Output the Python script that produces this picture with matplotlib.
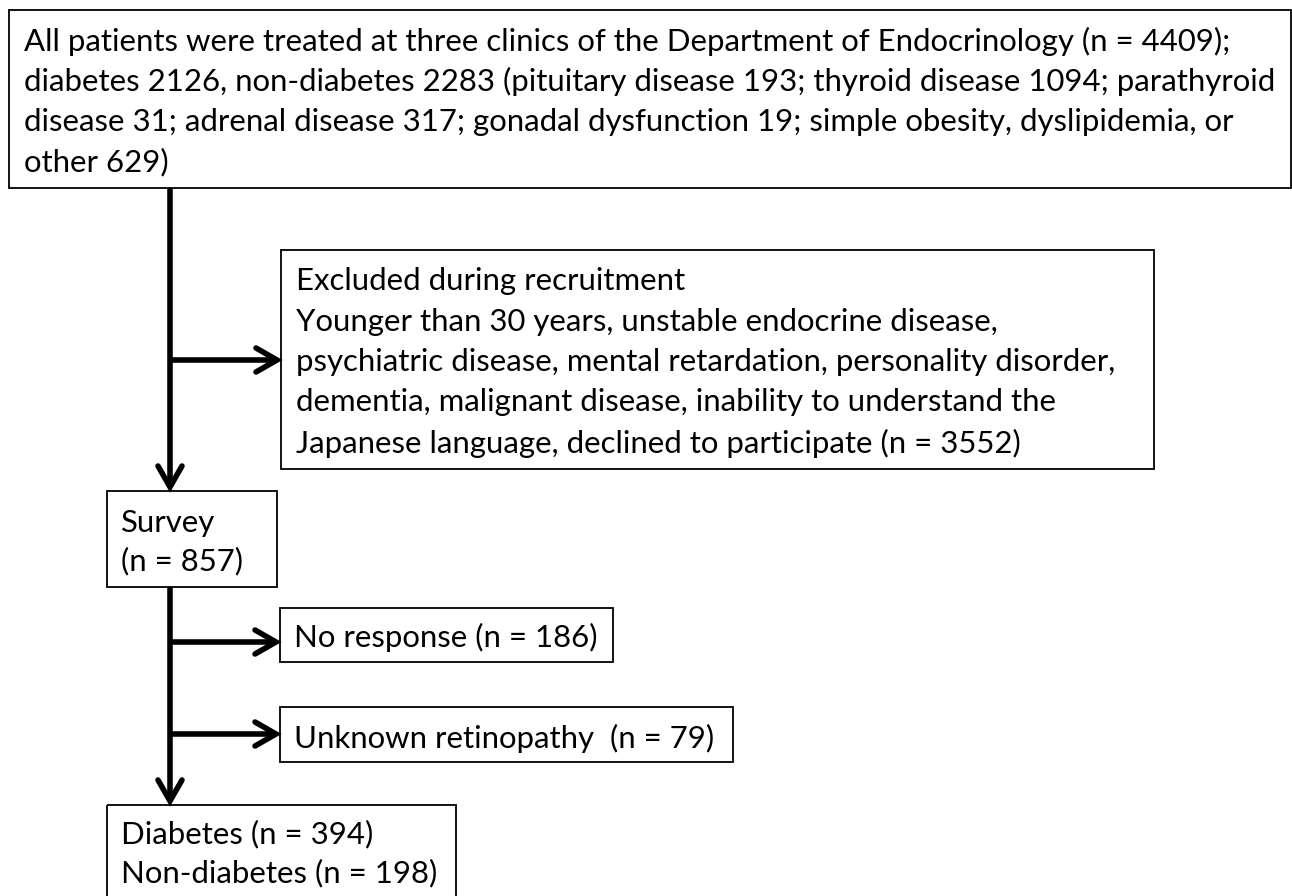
import matplotlib
matplotlib.use('Agg')
import matplotlib.pyplot as plt
from matplotlib.patches import Rectangle

plt.rcParams['font.family'] = ['Lato', 'DejaVu Sans']

# box texts
top_lines = [
    'All patients were treated at three clinics of the Department of Endocrinology (n = 4409);',
    'diabetes 2126, non-diabetes 2283 (pituitary disease 193; thyroid disease 1094; parathyroid',
    'disease 31; adrenal disease 317; gonadal dysfunction 19; simple obesity, dyslipidemia, or',
    'other 629)',
]
excluded_lines = [
    'Excluded during recruitment',
    'Younger than 30 years, unstable endocrine disease,',
    'psychiatric disease, mental retardation, personality disorder,',
    'dementia, malignant disease, inability to understand the',
    'Japanese language, declined to participate (n = 3552)',
]
survey_lines = ['Survey', '(n = 857)']
noresp_lines = ['No response (n = 186)']
unknown_lines = ['Unknown retinopathy  (n = 79)']
final_lines = ['Diabetes (n = 394)', 'Non-diabetes (n = 198)']

W, H = 1292, 896
fig = plt.figure(figsize=(W / 100, H / 100), dpi=100)
ax = fig.add_axes([0, 0, 1, 1])
ax.set_xlim(0, W)
ax.set_ylim(H, 0)
ax.axis('off')

FS = 22.4
LW = 1.3
GAP = 40.5


def box(x0, y0, x1, y1, lines, tx, ty, gap=GAP):
    ax.add_patch(Rectangle((x0, y0), x1 - x0, y1 - y0, fill=False,
                           edgecolor='black', linewidth=LW, clip_on=False))
    for i, s in enumerate(lines):
        ax.text(tx, ty + i * gap, s, fontsize=FS, va='center', ha='left')


def arrow(x0, y0, x1, y1):
    ax.plot([x0, x1], [y0, y1], color='black', lw=4, solid_capstyle='butt')
    if x0 == x1:
        d = 1 if y1 > y0 else -1
        ax.plot([x1 - 12, x1, x1 + 12], [y1 - d * 21, y1, y1 - d * 21],
                color='black', lw=4, solid_joinstyle='miter', solid_capstyle='round')
    else:
        ax.plot([x1 - 21, x1, x1 - 21], [y1 - 12, y1, y1 + 12],
                color='black', lw=4, solid_joinstyle='miter', solid_capstyle='round')


box(9, 10, 1291, 188, top_lines, 24, 41)
box(281, 250, 1154, 469, excluded_lines, 296, 281)
box(107, 491, 277, 587, survey_lines, 121, 523, gap=38)
box(280, 608, 613, 662, noresp_lines, 294, 637)
box(280, 707, 733, 762, unknown_lines, 294, 738)
box(107, 805, 456, 910, final_lines, 121, 834, gap=39)

# main flow
arrow(170, 188, 170, 487)
arrow(170, 360, 277, 360)
arrow(170, 587, 170, 801)
arrow(170, 642, 276, 642)
arrow(170, 734, 276, 734)

fig.savefig('out.png', dpi=100)
